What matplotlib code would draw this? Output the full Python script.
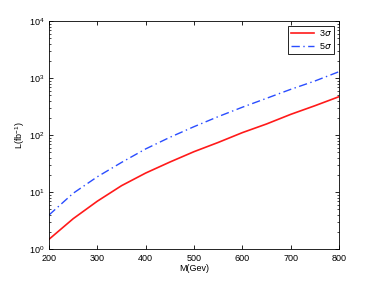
import numpy as np
import matplotlib
matplotlib.use("Agg")
import matplotlib.pyplot as plt
from matplotlib.ticker import LogLocator, NullFormatter

plt.rcParams['font.family'] = ['Liberation Sans', 'DejaVu Sans']
plt.rcParams['mathtext.fontset'] = 'custom'
plt.rcParams['mathtext.rm'] = 'Liberation Sans'

# Data
mass = [200, 250, 300, 350, 400, 450, 500, 550, 600, 650, 700, 750, 800]
lum_3sigma = [1.48, 3.4, 6.9, 12.9, 21.5, 33.5, 51, 74, 110, 156, 230, 326, 470]
lum_5sigma = [3.95, 9.5, 18.5, 33, 57, 91, 140, 210, 307, 440, 632, 885, 1290]

fig = plt.figure(figsize=(3.74, 2.81), dpi=100)
ax = fig.add_axes([49/374, 1 - 249/281, 290/374, 228/281])

ax.plot(mass, lum_3sigma, color='#ff1a1a', lw=1.2, label=r'3$\sigma$')
ax.plot(mass, lum_5sigma, color='#2a4dff', lw=1.0, ls=(0, (6, 2.5, 1, 2.5)),
        label=r'5$\sigma$')

ax.set_yscale('log')
ax.set_xlim(200, 800)
ax.set_ylim(1, 1e4)
ax.set_xticks(range(200, 801, 100))
ax.yaxis.set_minor_locator(LogLocator(base=10, subs=np.arange(2, 10)))
ax.yaxis.set_minor_formatter(NullFormatter())

ax.tick_params(which='both', direction='in', top=True, right=True, labelsize=6.5)
ax.tick_params(which='major', length=3, width=0.6)
ax.tick_params(which='minor', length=1.5, width=0.5)
for s in ax.spines.values():
    s.set_linewidth(0.6)

ax.set_xlabel('M(Gev)', fontsize=6.5, labelpad=1)
ax.set_ylabel(r'L(fb$^{-1}$)', fontsize=6.5, labelpad=1)

leg = ax.legend(loc='upper right', fontsize=6.5, fancybox=False, edgecolor='black',
                framealpha=1, borderaxespad=0.5, handlelength=2.6,
                borderpad=0.3, labelspacing=0.3, handletextpad=0.5)
leg.get_frame().set_linewidth(0.6)

fig.savefig('out.png', dpi=100)
